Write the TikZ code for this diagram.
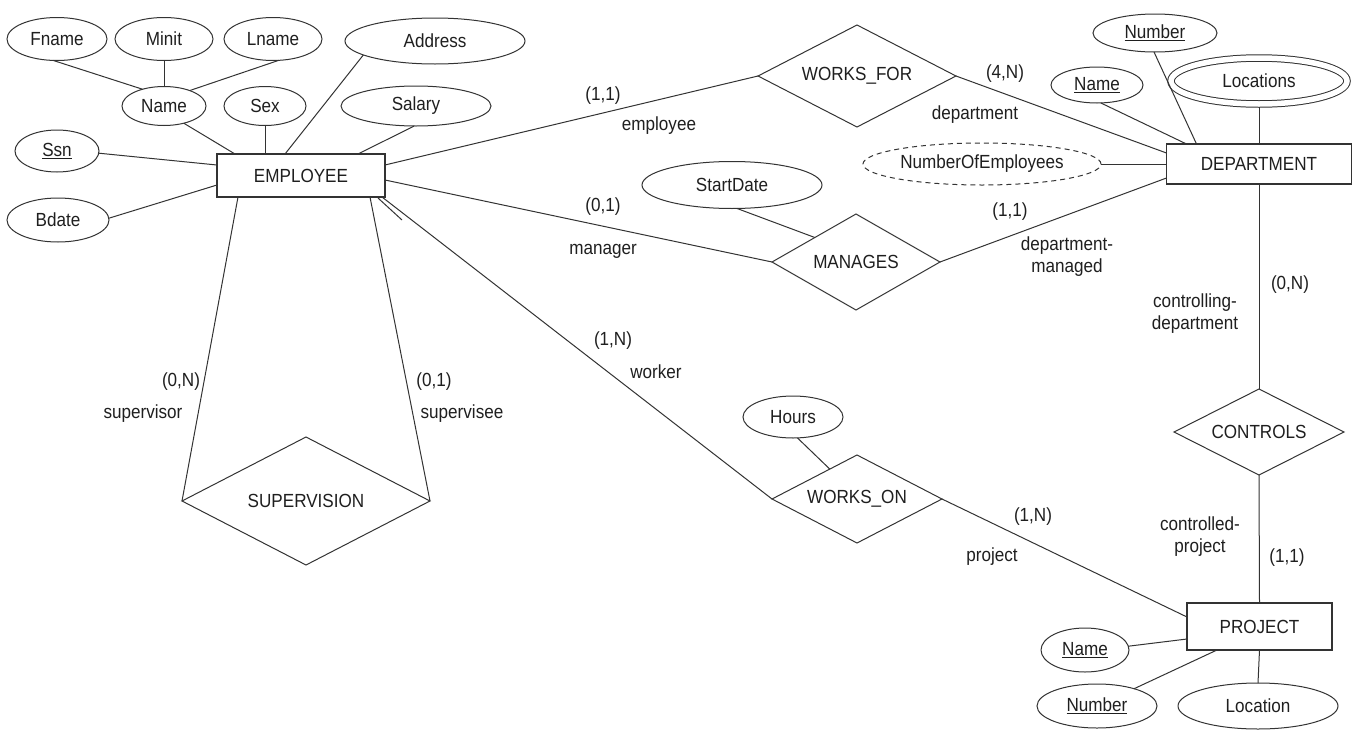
\documentclass[tikz,border=0pt]{standalone}
\usepackage{fontspec}
\setmainfont{Liberation Sans}[FakeStretch=0.9]
\usetikzlibrary{shapes.geometric,calc}
\definecolor{linec}{gray}{0.2}
\definecolor{textc}{gray}{0.12}
\begin{document}
\begin{tikzpicture}[x=1pt,y=-1pt,
  font=\fontsize{19}{22}\selectfont,
  attr/.style={ellipse, draw=linec, line width=1pt, inner sep=0pt, outer sep=0pt, text=textc},
  ent/.style={rectangle, draw=linec, line width=1.3pt, inner sep=0pt, outer sep=0pt, text=textc},
  rel/.style={diamond, draw=linec, line width=1pt, inner sep=0pt, outer sep=0pt, aspect=2, text=textc},
  lbl/.style={inner sep=0pt, text=textc},
  conn/.style={draw=linec, line width=1pt}]
\useasboundingbox[fill=white] (0,0) rectangle (1358,731);

% ---------- EMPLOYEE side ----------
\node[ent, minimum width=168pt, minimum height=43pt] (emp) at (301,175.5) {EMPLOYEE};
\node[attr, minimum width=100pt, minimum height=43pt] (fname) at (57,39) {Fname};
\node[attr, minimum width=98pt, minimum height=43pt] (minit) at (164,39) {Minit};
\node[attr, minimum width=98pt, minimum height=43pt] (lname) at (273,39) {Lname};
\node[attr, minimum width=180pt, minimum height=46pt] (address) at (435,41) {Address};
\node[attr, minimum width=84pt, minimum height=39pt] (name) at (164,106) {Name};
\node[attr, minimum width=82pt, minimum height=39pt] (sex) at (265,106) {Sex};
\node[attr, minimum width=150pt, minimum height=40pt] (salary) at (416,106) {Salary};
\node[attr, minimum width=84pt, minimum height=42pt] (ssn) at (57,151) {\underline{Ssn}};
\node[attr, minimum width=102pt, minimum height=44pt] (bdate) at (58,220) {Bdate};

\node[rel, minimum width=248pt, minimum height=128pt] (sup) at (306,501) {SUPERVISION};
\node[rel, minimum width=198pt, minimum height=102pt] (wf) at (857,76) {WORKS\_FOR};
\node[rel, minimum width=168pt, minimum height=96pt] (mg) at (856,262) {MANAGES};
\node[rel, minimum width=170pt, minimum height=88pt] (wo) at (857,499) {WORKS\_ON};
\node[rel, minimum width=170pt, minimum height=86pt] (ctrl) at (1259,432) {CONTROLS};

\node[attr, minimum width=180pt, minimum height=47pt] (sd) at (732,185) {StartDate};
\node[attr, minimum width=100pt, minimum height=42pt] (hours) at (793,417) {Hours};

% ---------- DEPARTMENT side ----------
\node[ent, minimum width=185pt, minimum height=40pt] (dept) at (1259,164) {DEPARTMENT};
\node[attr, minimum width=124pt, minimum height=38pt] (dnum) at (1155,33) {\underline{Number}};
\node[attr, minimum width=92pt, minimum height=36pt] (dname) at (1097,85) {\underline{Name}};
\node[attr, double, double distance=5.5pt, outer sep=3.2pt, minimum width=176pt, minimum height=46pt] (locs) at (1259,81) {Locations};
\node[attr, dash pattern=on 5pt off 4pt, minimum width=238pt, minimum height=42pt] (noe) at (982,164) {NumberOfEmployees};

% ---------- PROJECT side ----------
\node[ent, minimum width=145pt, minimum height=47pt] (proj) at (1259.5,626.5) {PROJECT};
\node[attr, minimum width=88pt, minimum height=44pt] (pname) at (1085,650) {\underline{Name}};
\node[attr, minimum width=120pt, minimum height=44pt] (pnum) at (1097,706) {\underline{Number}};
\node[attr, minimum width=160pt, minimum height=46pt] (loc) at (1258,706) {Location};

% ---------- connectors ----------
\draw[conn] (fname.-100) -- (name.142);
\draw[conn] (minit.south) -- (name.north);
\draw[conn] (lname.-75) -- (name.31);
\draw[conn] (name.-41) -- ($(emp.north west)+(18,0)$);
\draw[conn] (sex.south) -- (sex.south |- emp.north);
\draw[conn] (address.191) -- ($(emp.north west)+(68,0)$);
\draw[conn] (salary.-95) -- ($(emp.north west)+(141,0)$);
\draw[conn] (ssn.-3) -- ($(emp.north west)+(0,11)$);
\draw[conn] (bdate.2) -- ($(emp.south west)+(0,-12)$);

\draw[conn] ($(emp.north east)+(0,11)$) -- (wf.west);
\draw[conn] ($(emp.north east)+(0,26)$) -- (mg.west);
\draw[conn] ($(emp.south east)+(-3,0)$) -- (wo.west);
\coordinate (stubend) at ($(emp.south east)+(17,23)$);
\draw[conn] ($(emp.south east)+(-7,1)$) -- (stubend);
\draw[conn] ($(emp.south west)+(21,0)$) -- (sup.west);
\draw[conn] ($(emp.south east)+(-15,0)$) -- (sup.east);

\draw[conn] (sd.-78) -- ($(mg.west)!0.51!(mg.north)$);
\draw[conn] (hours.-78) -- ($(wo.west)!0.68!(wo.north)$);

\draw[conn] (wf.east) -- ($(dept.north west)+(0,9)$);
\draw[conn] (mg.east) -- ($(dept.south west)+(0,-6)$);
\draw[conn] (noe.east) -- (dept.west);
\draw[conn] (dnum.-93) -- ($(dept.north west)+(30,0)$);
\draw[conn] (dname.-78) -- ($(dept.north west)+(20,0)$);
\draw[conn] (locs.south) -- (locs.south |- dept.north);
\draw[conn] (dept.south) -- (ctrl.north);
\draw[conn] (ctrl.south) -- (proj.north);

\draw[conn] (wo.east) -- ($(proj.north west)+(0,14)$);
\draw[conn] (pname.5) -- ($(proj.south west)+(0,-11)$);
\draw[conn] (pnum.25) -- ($(proj.south west)+(30,0)$);
\draw[conn] (loc.north) -- (proj.south);

% ---------- role / cardinality labels ----------
\node[lbl] (c1) at (603,96) {(1,1)};
\node[lbl] (r1) at (659,126) {employee};
\node[lbl] (c2) at (1005,74) {(4,N)};
\node[lbl] (r2) at (975,115) {department};
\node[lbl] (c3) at (603,207) {(0,1)};
\node[lbl] (r3) at (603,251) {manager};
\node[lbl] (c4) at (1010,212) {(1,1)};
\node[lbl, align=center] (r4) at (1067,257) {department-\\managed};
\node[lbl] (c5) at (1290,285) {(0,N)};
\node[lbl, align=center] (r5) at (1195,314) {controlling-\\department};
\node[lbl] (c6) at (613,341) {(1,N)};
\node[lbl] (r6) at (656,372) {worker};
\node[lbl] (c7) at (181,382) {(0,N)};
\node[lbl] (r7) at (143,414) {supervisor};
\node[lbl] (c8) at (434,382) {(0,1)};
\node[lbl] (r8) at (462,414) {supervisee};
\node[lbl] (c9) at (1033,517) {(1,N)};
\node[lbl] (r9) at (992,557) {project};
\node[lbl, align=center] (r10) at (1200,537) {controlled-\\project};
\node[lbl] (c10) at (1287,558) {(1,1)};
\end{tikzpicture}
\end{document}
